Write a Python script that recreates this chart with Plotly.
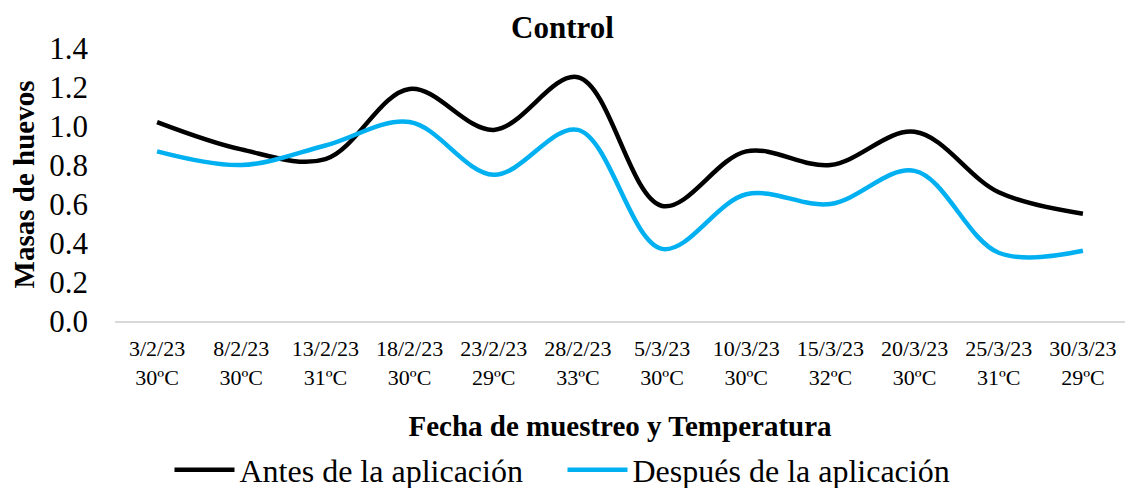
import plotly.graph_objects as go

fechas = ["3/2/23", "8/2/23", "13/2/23", "18/2/23", "23/2/23", "28/2/23",
          "5/3/23", "10/3/23", "15/3/23", "20/3/23", "25/3/23", "30/3/23"]
temperaturas = ["30ºC", "30ºC", "31ºC", "30ºC", "29ºC", "33ºC",
                "30ºC", "30ºC", "32ºC", "30ºC", "31ºC", "29ºC"]
antes = [1.02, 0.88, 0.83, 1.19, 0.98, 1.25, 0.59, 0.87, 0.80, 0.97, 0.66, 0.55]
despues = [0.87, 0.80, 0.90, 1.02, 0.75, 0.98, 0.37, 0.65, 0.60, 0.77, 0.35, 0.36]

categorias = [f"{f}<br>{t}" for f, t in zip(fechas, temperaturas)]

FONT = "Liberation Serif, Times New Roman, serif"

fig = go.Figure()
fig.add_trace(go.Scatter(x=categorias, y=antes, mode="lines",
                         name="Antes de la aplicación",
                         line=dict(color="#000000", width=4.5, shape="spline", smoothing=1)))
fig.add_trace(go.Scatter(x=categorias, y=despues, mode="lines",
                         name="Después de la aplicación",
                         line=dict(color="#00B0F0", width=4.5, shape="spline", smoothing=1)))

fig.update_layout(
    width=1125, height=488,
    margin=dict(l=115, r=0, t=48, b=167),
    paper_bgcolor="white", plot_bgcolor="white",
    font=dict(family=FONT, color="#000000"),
    title=dict(text="<b>Control</b>", x=0.5, xref="container", xanchor="center",
               y=1 - 27 / 488, yref="container", yanchor="middle",
               font=dict(size=31, family=FONT, color="#000000")),
    showlegend=True,
    legend=dict(orientation="h", x=0.5, xref="container", xanchor="center",
                y=1 - 470 / 488, yref="container", yanchor="middle",
                font=dict(size=32, family=FONT, color="#000000"),
                itemwidth=60, entrywidth=318, bgcolor="rgba(0,0,0,0)"),
    xaxis=dict(type="category", range=[-0.5, 11.5], showgrid=False,
               showline=True, linecolor="#d9d9d9", linewidth=1.5,
               ticks="", ticklabelstandoff=7,
               tickfont=dict(size=22, family=FONT, color="#000000"),
               title=dict(text="<b>Fecha de muestreo y Temperatura</b>", standoff=32,
                          font=dict(size=29, family=FONT, color="#000000"))),
    yaxis=dict(range=[0, 1.4], dtick=0.2, tickformat=".1f", showgrid=False,
               zeroline=False, showline=False, ticks="", ticklabelstandoff=26,
               tickfont=dict(size=31, family=FONT, color="#000000"),
               title=dict(text="<b>Masas de huevos</b>", standoff=6,
                          font=dict(size=29, family=FONT, color="#000000"))),
)

fig.write_html("out.html")
